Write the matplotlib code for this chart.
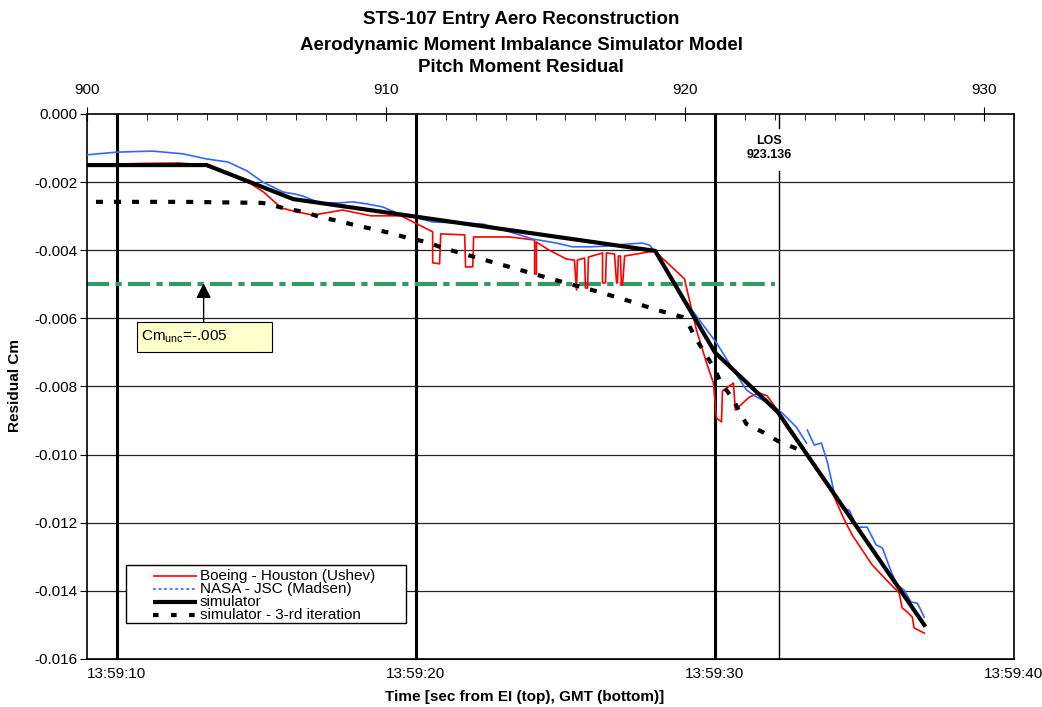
import matplotlib.pyplot as plt
import numpy as np
from matplotlib.patches import Rectangle

plt.rcParams['font.family'] = ['Liberation Sans', 'DejaVu Sans']
plt.rcParams['lines.scale_dashes'] = False

# Boeing - Houston (Ushev) residual
boeing_t = [900.0, 901.0, 902.0, 903.1, 903.9, 904.8, 905.45, 905.9, 906.5, 907.05,
            907.55, 908.55, 909.5, 910.5, 911.56, 911.56, 911.79, 911.83, 912.63, 912.66,
            912.9, 912.93, 914.13, 914.97, 914.97, 915.03, 915.03, 915.44, 916.04, 916.3,
            916.37, 916.4, 916.64, 916.67, 916.74, 916.77, 917.24, 917.24, 917.34, 917.37,
            917.64, 917.71, 917.74, 917.77, 917.84, 917.87, 917.91, 917.98, 918.98, 919.98,
            920.38, 920.72, 920.95, 921.05, 921.22, 921.25, 921.62, 921.68, 922.15, 922.49,
            922.75, 923.09, 923.39, 924.06, 924.93, 925.33, 925.59, 926.26, 926.83, 927.16,
            927.26, 927.43, 927.6, 927.66, 928.0]
boeing_cm = [-0.00148, -0.00147, -0.00145, -0.00144, -0.00150, -0.00179, -0.00203, -0.00229, -0.00276, -0.00288,
             -0.00297, -0.00282, -0.00299, -0.00299, -0.00346, -0.00437, -0.00440, -0.00352, -0.00355, -0.00449,
             -0.00449, -0.00361, -0.00361, -0.00370, -0.00470, -0.00470, -0.00376, -0.00399, -0.00426, -0.00429,
             -0.00517, -0.00429, -0.00423, -0.00511, -0.00511, -0.00420, -0.00408, -0.00496, -0.00496, -0.00408,
             -0.00411, -0.00496, -0.00496, -0.00417, -0.00417, -0.00502, -0.00502, -0.00417, -0.00402, -0.00484,
             -0.00634, -0.00731, -0.00790, -0.00893, -0.00904, -0.00813, -0.00790, -0.00869, -0.00831, -0.00819,
             -0.00828, -0.00869, -0.00919, -0.01001, -0.01113, -0.01192, -0.01236, -0.01324, -0.01377, -0.01406,
             -0.01450, -0.01462, -0.01477, -0.01509, -0.01524]

# NASA - JSC (Madsen) residual, nan marks the data gap
nasa_t = [900.0, 901.0, 902.2, 903.2, 904.0, 904.71, 905.35, 905.88, 906.55, 906.95,
          907.22, 907.78, 908.45, 908.89, 909.36, 909.89, 910.46, 911.03, 911.56, 913.23,
          914.13, 914.9, 915.7, 916.24, 916.81, 917.37, 918.04, 918.58, 918.81, 918.98,
          919.91, 920.48, 921.05, 921.58, 922.05, 922.39, 922.82, 923.25, 923.72, 924.06,
          924.075, 924.09, 924.32, 924.56, 924.76, 924.99, 925.26, 925.49, 925.76, 926.09,
          926.39, 926.6, 926.9, 927.1, 927.33, 927.56, 927.77, 928.0]
nasa_cm = [-0.00120, -0.00112, -0.00109, -0.00117, -0.00132, -0.00141, -0.00167, -0.00200, -0.00229, -0.00235,
           -0.00241, -0.00261, -0.00261, -0.00258, -0.00264, -0.00273, -0.00294, -0.00305, -0.00317, -0.00323,
           -0.00346, -0.00367, -0.00379, -0.00390, -0.00390, -0.00388, -0.00382, -0.00379, -0.00385, -0.00402,
           -0.00537, -0.00605, -0.00672, -0.00746, -0.00810, -0.00831, -0.00849, -0.00878, -0.00919, -0.00966,
           np.nan, -0.00928, -0.00972, -0.00966, -0.01022, -0.01113, -0.01157, -0.01163, -0.01213, -0.01213,
           -0.01265, -0.01274, -0.01345, -0.01383, -0.01398, -0.01433, -0.01436, -0.01477]

# simulator model
sim_t = [900.0, 904.0, 906.9, 919.0, 921.0, 923.1, 928.0]
sim_cm = [-0.00150, -0.00150, -0.00250, -0.00402, -0.00700, -0.00875, -0.01500]

# simulator, 3-rd iteration
iter3_t = [900.3, 903.27, 905.85, 906.05, 906.55, 907.28, 907.78, 908.39, 908.95, 909.56,
           910.12, 910.73, 911.36, 911.89, 913.2, 914.37, 915.4, 917.14, 918.24, 919.04,
           919.91, 920.05, 920.3, 920.6, 921.0, 921.2, 921.55, 922.05, 922.6, 923.1, 923.8]
iter3_cm = [-0.00258, -0.00258, -0.00261, -0.00264, -0.00276, -0.00288, -0.00302, -0.00314, -0.00326, -0.00338,
            -0.00349, -0.00364, -0.00376, -0.00393, -0.00426, -0.00455, -0.00481, -0.00523, -0.00552, -0.00575,
            -0.00596, -0.00605, -0.00650, -0.00693, -0.00750, -0.00790, -0.00830, -0.00910, -0.00934, -0.00960,
            -0.00985]

cm_unc = -0.005
los_time = 923.136
top_ticks = [900, 910, 920, 930]
gmt_ticks = [901, 911, 921, 931]
gmt_labels = ['13:59:10', '13:59:20', '13:59:30', '13:59:40']
y_ticks = [0.0, -0.002, -0.004, -0.006, -0.008, -0.010, -0.012, -0.014, -0.016]

fig = plt.figure(figsize=(10.42, 7.07), dpi=100)
ax = fig.add_axes([0.0835, 0.0679, 0.8896, 0.7709])

ax.set_xlim(900, 931)
ax.set_ylim(-0.016, 0.0)

# horizontal grid
for y in y_ticks[1:-1]:
    ax.axhline(y, color='#222222', lw=0.9, zorder=1)

# GMT second marks
for t in gmt_ticks[:-1]:
    ax.axvline(t, color='black', lw=2.2, zorder=1)

# loss of signal marker
ax.plot([los_time, los_time], [0.0, -0.00041], color='black', lw=1, zorder=1)
ax.plot([los_time, los_time], [-0.00167, -0.016], color='black', lw=1, zorder=1)
ax.text(922.8, -0.00101, 'LOS\n923.136', ha='center', va='center', fontsize=9,
        fontweight='bold', linespacing=1.25)

# uncertainty level
ax.plot([900, 923.0], [cm_unc, cm_unc], color='#339966', lw=3, zorder=2,
        dashes=(16, 4.5, 4.5, 4.5))

ax.plot(boeing_t, boeing_cm, color='#ff0000', lw=1.2, zorder=3)
ax.plot(nasa_t, nasa_cm, color='#3366ff', lw=1.2, zorder=3)
ax.plot(iter3_t, iter3_cm, color='black', lw=3, zorder=4, dashes=(5, 8))
ax.plot(sim_t, sim_cm, color='black', lw=3, zorder=5)

# Cm_unc callout
ax.add_patch(Rectangle((901.67, -0.00699), 4.53, 0.00088, facecolor='#ffffcc',
                       edgecolor='black', lw=0.8, zorder=6))
ax.text(901.8, -0.00655, r'Cm$_{\mathregular{unc}}$=-.005', fontsize=11,
        va='center', ha='left', zorder=7)
ax.annotate('', xy=(903.9, cm_unc + 0.00003), xytext=(903.9, -0.00611),
            arrowprops=dict(arrowstyle='-|>,head_length=0.9,head_width=0.45',
                            color='black', lw=1, shrinkA=0, shrinkB=0), zorder=7)

# top axis: seconds from EI
ax.xaxis.tick_top()
ax.set_xticks(top_ticks)
ax.set_xticks(np.arange(900, 932, 1), minor=True)
ax.tick_params(axis='x', which='major', direction='inout', length=10, pad=7, labelsize=11)
ax.tick_params(axis='x', which='minor', direction='in', length=4)

# bottom axis: GMT
gmt = ax.secondary_xaxis('bottom')
gmt.set_xticks(gmt_ticks, labels=gmt_labels)
gmt.tick_params(length=0, pad=6, labelsize=11)

ax.set_yticks(y_ticks)
ax.set_yticklabels(['0.000'] + ['%.3f' % v for v in y_ticks[1:]])
ax.tick_params(axis='y', direction='out', length=5, pad=2, labelsize=11)

for s in ax.spines.values():
    s.set_linewidth(1.2)

# legend, drawn by hand for the tight row spacing
legend_rows = [
    ('Boeing - Houston (Ushev)', dict(color='#ff0000', lw=1.2)),
    ('NASA - JSC (Madsen)', dict(color='#3366ff', lw=1.2, dashes=(2, 2))),
    ('simulator', dict(color='black', lw=3)),
    ('simulator - 3-rd iteration', dict(color='black', lw=3, dashes=(4, 9))),
]
ax.add_patch(Rectangle((0.042, 0.066), 0.302, 0.107, transform=ax.transAxes,
                       facecolor='white', edgecolor='black', lw=1, zorder=8))
for i, (label, style) in enumerate(legend_rows):
    yrow = 0.1523 - i * 0.02385
    ax.plot([0.0712, 0.1187], [yrow, yrow], transform=ax.transAxes, zorder=9,
            solid_capstyle='butt', **style)
    ax.text(0.1219, yrow, label, transform=ax.transAxes, fontsize=11, va='center',
            ha='left', zorder=9)

fig.text(0.5, 1 - 20 / 707, 'STS-107 Entry Aero Reconstruction', ha='center', va='center',
         fontsize=13.5, fontweight='bold')
fig.text(0.5, 1 - 45 / 707, 'Aerodynamic Moment Imbalance Simulator Model', ha='center',
         va='center', fontsize=13.5, fontweight='bold')
fig.text(0.5, 1 - 68 / 707, 'Pitch Moment Residual', ha='center', va='center',
         fontsize=13.5, fontweight='bold')
fig.text(0.503, 1 - 697 / 707, 'Time [sec from EI (top), GMT (bottom)]', ha='center',
         va='center', fontsize=11, fontweight='bold')
fig.text(15 / 1042, 1 - 386 / 707, 'Residual Cm', ha='center', va='center', rotation=90,
         fontsize=11, fontweight='bold')

fig.savefig('out.png', dpi=100)
